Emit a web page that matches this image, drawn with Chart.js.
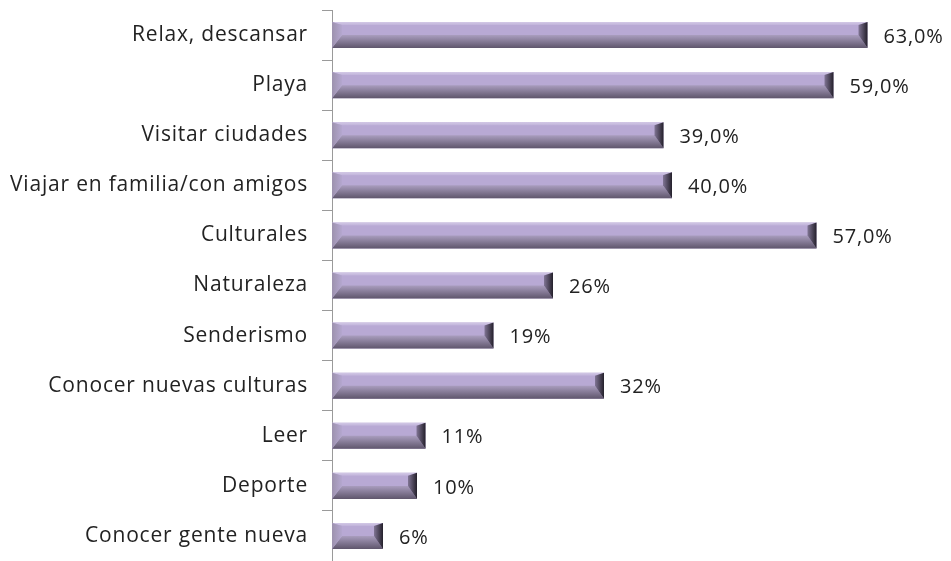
<!DOCTYPE html>
<html>
<head>
<meta charset="utf-8">
<script src="https://cdn.jsdelivr.net/npm/chart.js@4.4.0/dist/chart.umd.min.js"></script>
<style>
    html, body { margin: 0; padding: 0; background: #fff; }
    #wrap { width: 951px; height: 561px; }
</style>
</head>
<body>
<div id="wrap"><canvas id="chart" width="951" height="561"></canvas></div>
<script>
    // categorías y valores
    const categorias = [
        'Relax, descansar',
        'Playa',
        'Visitar ciudades',
        'Viajar en familia/con amigos',
        'Culturales',
        'Naturaleza',
        'Senderismo',
        'Conocer nuevas culturas',
        'Leer',
        'Deporte',
        'Conocer gente nueva'
    ];
    const valores = [63, 59, 39, 40, 57, 26, 19, 32, 11, 10, 6];
    const etiquetas = ['63,0%', '59,0%', '39,0%', '40,0%', '57,0%', '26%', '19%', '32%', '11%', '10%', '6%'];

    const fuente = "'Open Sans', sans-serif";

    // letra un poco más ancha
    const espaciado = {
        id: 'espaciado',
        beforeDraw(chart) { chart.ctx.letterSpacing = '0.8px'; }
    };

    // biselado de las barras + etiquetas
    const biselPlugin = {
        id: 'bisel',
        afterDatasetsDraw(chart) {
            const ctx = chart.ctx;
            const meta = chart.getDatasetMeta(0);
            meta.data.forEach((bar, i) => {
                const left = Math.min(bar.base, bar.x);
                const right = Math.max(bar.base, bar.x);
                const top = bar.y - bar.height / 2;
                const bottom = bar.y + bar.height / 2;
                const bt = 3, bb = 13, bl = 10, br = 9;
                ctx.save();
                // arriba
                let g = ctx.createLinearGradient(0, top, 0, top + bt);
                g.addColorStop(0, '#d3c9e6');
                g.addColorStop(1, '#c0b3da');
                ctx.fillStyle = g;
                ctx.beginPath();
                ctx.moveTo(left, top);
                ctx.lineTo(right, top);
                ctx.lineTo(right - br, top + bt);
                ctx.lineTo(left + bl, top + bt);
                ctx.closePath();
                ctx.fill();
                // abajo
                g = ctx.createLinearGradient(0, bottom - bb, 0, bottom);
                g.addColorStop(0, '#a99dbe');
                g.addColorStop(1, '#5f566c');
                ctx.fillStyle = g;
                ctx.beginPath();
                ctx.moveTo(left, bottom);
                ctx.lineTo(right, bottom);
                ctx.lineTo(right - br, bottom - bb);
                ctx.lineTo(left + bl, bottom - bb);
                ctx.closePath();
                ctx.fill();
                // izquierda
                g = ctx.createLinearGradient(left, 0, left + bl, 0);
                g.addColorStop(0, '#9d92ae');
                g.addColorStop(1, '#b4a7cf');
                ctx.fillStyle = g;
                ctx.beginPath();
                ctx.moveTo(left, top);
                ctx.lineTo(left + bl, top + bt);
                ctx.lineTo(left + bl, bottom - bb);
                ctx.lineTo(left, bottom);
                ctx.closePath();
                ctx.fill();
                // derecha
                g = ctx.createLinearGradient(right - br, 0, right, 0);
                g.addColorStop(0, '#807594');
                g.addColorStop(1, '#24202b');
                ctx.fillStyle = g;
                ctx.beginPath();
                ctx.moveTo(right, top);
                ctx.lineTo(right - br, top + bt);
                ctx.lineTo(right - br, bottom - bb);
                ctx.lineTo(right, bottom);
                ctx.closePath();
                ctx.fill();
                // etiqueta
                ctx.fillStyle = '#222';
                ctx.font = '20px ' + fuente;
                ctx.textAlign = 'left';
                ctx.textBaseline = 'middle';
                ctx.fillText(etiquetas[i], right + 16, bar.y + 2);
                ctx.restore();
            });
        }
    };

    new Chart(document.getElementById('chart').getContext('2d'), {
        type: 'bar',
        data: {
            labels: categorias,
            datasets: [{
                data: valores,
                backgroundColor: '#b8a9d4',
                borderWidth: 0,
                categoryPercentage: 1,
                barPercentage: 0.52
            }]
        },
        options: {
            indexAxis: 'y',
            responsive: false,
            animation: false,
            layout: { padding: { top: 10, right: 24, bottom: 0, left: 0 } },
            plugins: {
                legend: { display: false },
                tooltip: { enabled: false }
            },
            scales: {
                x: {
                    display: false,
                    min: 0,
                    max: 70
                },
                y: {
                    afterFit(scale) {
                        scale.width = 332;
                        scale.paddingTop = 0;
                        scale.paddingBottom = 0;
                    },
                    grid: {
                        offset: true,
                        drawOnChartArea: false,
                        drawTicks: true,
                        tickLength: 10,
                        color: '#9a9a9a'
                    },
                    border: { display: true, color: '#9a9a9a', width: 1 },
                    ticks: {
                        color: '#222',
                        padding: 14,
                        font: { family: fuente, size: 21 }
                    }
                }
            }
        },
        plugins: [espaciado, biselPlugin]
    });
</script>
</body>
</html>
